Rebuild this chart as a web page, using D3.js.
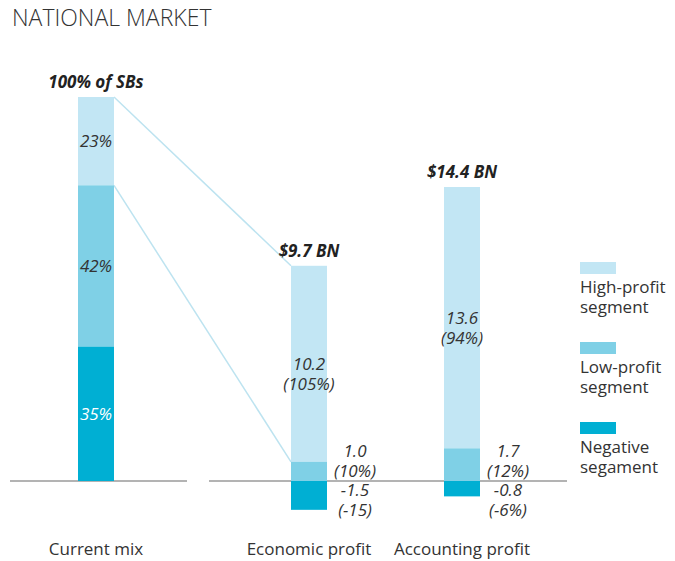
<!DOCTYPE html>
<html>
<head>
<meta charset="utf-8">
<script src="https://cdn.jsdelivr.net/npm/d3@7"></script>
<style>
  body { margin: 0; background: #fff; }
  svg { display: block; font-family: "Open Sans", sans-serif; }
</style>
</head>
<body>
<div id="chart"></div>
<script>
// chart data
const categories = ["Current mix", "Economic profit", "Accounting profit"];
const totals = ["100% of SBs", "$9.7 BN", "$14.4 BN"];
const segments = ["High-profit", "Low-profit", "Negative"];
const legendLabels = [["High-profit", "segment"], ["Low-profit", "segment"], ["Negative", "segament"]];
const mixShares = [23, 42, 35];              // high, low, negative (% of SBs)
const economicValues = [10.2, 1.0, -1.5];    // $BN
const economicShares = ["(105%)", "(10%)", "(-15)"];
const accountingValues = [13.6, 1.7, -0.8];  // $BN
const accountingShares = ["(94%)", "(12%)", "(-6%)"];

const width = 675, height = 561;
const zeroY = 481;
const barW = 36;
const fs = 17;

const color = d3.scaleOrdinal()
    .domain(segments)
    .range(["#c2e6f4", "#7fd0e6", "#00afd3"]);

// bar centres
const x = d3.scaleOrdinal()
    .domain(categories)
    .range([96, 309, 462]);

// share scale for the current mix, money scale for the two profit bars
const yMix = d3.scaleLinear().domain([0, 100]).range([zeroY, 97]);
const yBn = d3.scaleLinear().domain([0, 15.3]).range([zeroY, 187]);

const svg = d3.select("#chart")
    .append("svg")
    .attr("width", width)
    .attr("height", height);

svg.append("text")
    .attr("x", 12)
    .attr("y", 26)
    .attr("font-size", 23)
    .attr("font-weight", 300)
    .attr("fill", "#333")
    .text("NATIONAL MARKET");

// baseline pieces
svg.append("g")
    .attr("stroke", "#9a9a9a")
    .attr("stroke-width", 1.5)
    .selectAll("line")
    .data([[10, 187], [209, 567]])
    .join("line")
    .attr("x1", d => d[0])
    .attr("x2", d => d[1])
    .attr("y1", zeroY)
    .attr("y2", zeroY);

// stack helper: low sits on zero, high on top of low, negative goes below zero
function stackRows(values) {
    const [high, low, neg] = values;
    return [
        { seg: "High-profit", v0: low, v1: low + high, value: high },
        { seg: "Low-profit", v0: 0, v1: low, value: low },
        { seg: "Negative", v0: neg, v1: 0, value: neg }
    ];
}

// current mix: stacked top-down high, low, negative
const mixRows = [
    { seg: "High-profit", v0: 100 - mixShares[0], v1: 100, value: mixShares[0] },
    { seg: "Low-profit", v0: mixShares[2], v1: mixShares[2] + mixShares[1], value: mixShares[1] },
    { seg: "Negative", v0: 0, v1: mixShares[2], value: mixShares[2] }
];

const cx0 = x(categories[0]);

// connector lines from current mix to economic profit
const econRows = stackRows(economicValues);
const connectorG = svg.append("g")
    .attr("stroke", "#bde3f0")
    .attr("stroke-width", 1.5)
    .attr("fill", "none");
connectorG.append("line")
    .attr("x1", cx0 + barW / 2).attr("y1", yMix(100))
    .attr("x2", x(categories[1]) - barW / 2).attr("y2", yBn(econRows[0].v1));
connectorG.append("line")
    .attr("x1", cx0 + barW / 2).attr("y1", yMix(mixRows[1].v1))
    .attr("x2", x(categories[1]) - barW / 2).attr("y2", yBn(econRows[1].v1));

const mixG = svg.append("g");
mixG.selectAll("rect")
    .data(mixRows)
    .join("rect")
    .attr("x", cx0 - barW / 2)
    .attr("width", barW)
    .attr("y", d => yMix(d.v1))
    .attr("height", d => yMix(d.v0) - yMix(d.v1))
    .attr("fill", d => color(d.seg));

mixG.selectAll("text")
    .data(mixRows)
    .join("text")
    .attr("x", cx0)
    .attr("y", d => (yMix(d.v0) + yMix(d.v1)) / 2 + 6)
    .attr("text-anchor", "middle")
    .attr("font-size", fs)
    .attr("font-style", "italic")
    .attr("fill", d => d.seg === "Negative" ? "#fff" : "#333")
    .text(d => d.value + "%");

// profit bars
function profitBar(cat, values, shares) {
    const cx = x(cat);
    const rows = stackRows(values);
    const g = svg.append("g");
    g.selectAll("rect")
        .data(rows)
        .join("rect")
        .attr("x", cx - barW / 2)
        .attr("width", barW)
        .attr("y", d => yBn(d.v1))
        .attr("height", d => yBn(d.v0) - yBn(d.v1))
        .attr("fill", d => color(d.seg));

    // value + share, two lines; small segments get their label beside the bar
    const labels = g.selectAll("text.val")
        .data(rows.map((d, i) => ({ ...d, share: shares[i] })))
        .join("text")
        .attr("class", "val")
        .attr("text-anchor", "middle")
        .attr("font-size", fs)
        .attr("font-style", "italic")
        .attr("fill", "#333")
        .attr("transform", d => {
            if (d.seg === "High-profit") return `translate(${cx},${(yBn(d.v0) + yBn(d.v1)) / 2 + 6})`;
            if (d.seg === "Low-profit") return `translate(${cx + barW / 2 + 28},${zeroY - 24})`;
            return `translate(${cx + barW / 2 + 28},${zeroY + 15})`;
        });
    labels.append("tspan").attr("x", 0).attr("y", 0).text(d => d.value.toFixed(1));
    labels.append("tspan").attr("x", 0).attr("y", 20).text(d => d.share);

    return rows;
}

profitBar(categories[1], economicValues, economicShares);
profitBar(categories[2], accountingValues, accountingShares);

// totals above bars
const topY = [yMix(100), yBn(economicValues[0] + economicValues[1]), yBn(accountingValues[0] + accountingValues[1])];
svg.append("g")
    .selectAll("text")
    .data(totals)
    .join("text")
    .attr("x", (d, i) => x(categories[i]))
    .attr("y", (d, i) => topY[i] - 9)
    .attr("text-anchor", "middle")
    .attr("font-size", fs)
    .attr("font-weight", 700)
    .attr("font-style", "italic")
    .attr("fill", "#222")
    .text(d => d);

// category labels
svg.append("g")
    .selectAll("text")
    .data(categories)
    .join("text")
    .attr("x", d => x(d))
    .attr("y", 555)
    .attr("text-anchor", "middle")
    .attr("font-size", fs)
    .attr("fill", "#333")
    .text(d => d);

// legend
const legend = svg.append("g")
    .attr("transform", "translate(580,262)")
    .selectAll("g")
    .data(segments)
    .join("g")
    .attr("transform", (d, i) => `translate(0,${i * 80})`);

legend.append("rect")
    .attr("width", 36)
    .attr("height", 12)
    .attr("fill", d => color(d));

legend.append("text")
    .attr("font-size", fs)
    .attr("fill", "#333")
    .selectAll("tspan")
    .data((d, i) => legendLabels[i])
    .join("tspan")
    .attr("x", 0)
    .attr("y", (d, j) => 31 + j * 20)
    .text(d => d);
</script>
</body>
</html>
